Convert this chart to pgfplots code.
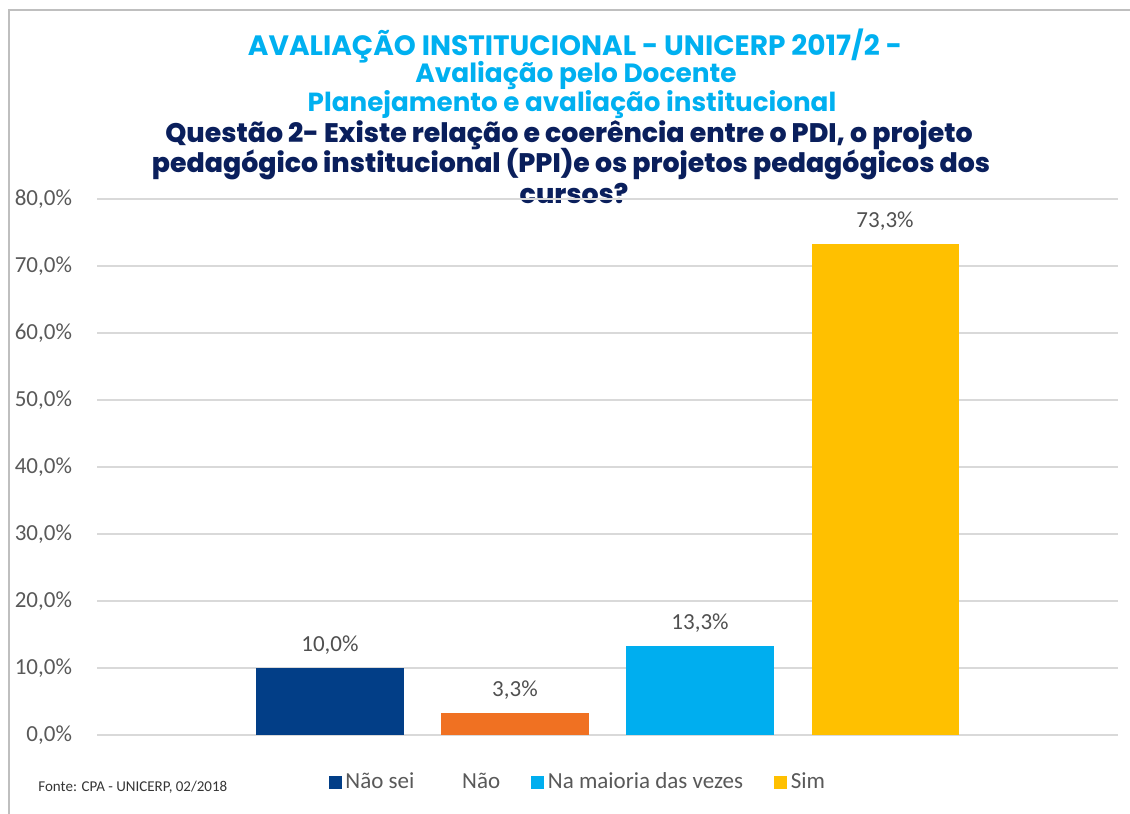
\documentclass[border=0pt]{standalone}
\usepackage{fontspec}
\setmainfont{Carlito}
\newfontfamily\titlefont[UprightFont={* Bold}]{Poppins}
\newfontfamily\heavyfont[UprightFont={* ExtraBold}]{Poppins}
\usepackage{pgfplots}
\pgfplotsset{compat=1.18}
\definecolor{titlecyan}{HTML}{00B0F0}
\definecolor{navy}{HTML}{0A1F5C}
\definecolor{txtgray}{HTML}{595959}
\definecolor{gridgray}{HTML}{D9D9D9}
\definecolor{framegray}{HTML}{BFBFBF}
\definecolor{cNaoSei}{HTML}{023E87}
\definecolor{cNao}{HTML}{F07122}
\definecolor{cMaioria}{HTML}{00AEEF}
\definecolor{cSim}{HTML}{FFC000}
\begin{document}
\begin{tikzpicture}[x=0.5pt,y=0.5pt]
\path[use as bounding box] (0,0) rectangle (1130,814);
% frame of the chart area
\draw[framegray,line width=1pt] (9,0) -- (9,804) -- (1130,804);
% titles
\node[titlecyan,font=\titlefont\fontsize{14}{16}\selectfont] at (575,768) {AVALIAÇÃO INSTITUCIONAL - UNICERP 2017/2 -};
\node[titlecyan,font=\titlefont\fontsize{13.2}{15}\selectfont] at (576,738) {Avaliação pelo Docente};
\node[titlecyan,font=\titlefont\fontsize{13.1}{15}\selectfont] at (572,709) {Planejamento e avaliação institucional};
\node[navy,font=\heavyfont\fontsize{13.4}{15}\selectfont] at (569,679) {Questão 2- Existe relação e coerência entre o PDI, o projeto};
\node[navy,font=\heavyfont\fontsize{13.4}{15}\selectfont] at (571,650) {pedagógico institucional (PPI)e os projetos pedagógicos dos};
\node[navy,font=\heavyfont\fontsize{13.4}{15}\selectfont] at (574,621) {cursos?};
% source
\node[txtgray!60!black,font=\fontsize{7.5}{9}\selectfont,anchor=west,inner sep=0pt] at (38,27) {Fonte: CPA - UNICERP, 02/2018};
\begin{axis}[
    at={(48.5pt,39.5pt)}, anchor=south west,
    scale only axis,
    width=510.5pt, height=268pt,
    xmin=-0.259, xmax=5.259,
    ymin=0, ymax=80,
    ytick={0,10,...,80},
    xtick=\empty,
    ymajorgrids=true,
    grid style={gridgray,line width=0.8pt},
    axis line style={draw=none},
    major tick style={draw=none},
    /pgf/number format/assume math mode=true,
    yticklabel={\pgfmathprintnumber[fixed,fixed zerofill,precision=1,use comma]{\tick}\%},
    yticklabel style={font=\fontsize{11.5}{13}\selectfont,text=txtgray,xshift=-9pt},
    nodes near coords={\pgfmathprintnumber[fixed,fixed zerofill,precision=1,use comma,assume math mode=true]{\pgfplotspointmeta}\%},
    nodes near coords style={font=\fontsize{11.5}{13}\selectfont,text=txtgray!90!black,yshift=3pt},
    ybar, bar width=0.795, bar shift=0pt,
    legend columns=4,
    legend style={at={(0.471,-0.088)}, anchor=center, draw=none, fill=none,
        font=\fontsize{11.5}{13}\selectfont, text=txtgray,
        nodes={inner sep=1pt},
        /tikz/every odd column/.append style={column sep=1pt},
        /tikz/every even column/.append style={column sep=14.5pt}},
    legend cell align=left,
]
\addplot[fill=cNaoSei, draw=none, forget plot] coordinates {(1,10.0)};
\addplot[fill=cNao, draw=none, forget plot] coordinates {(2,3.3)};
\addplot[fill=cMaioria, draw=none, forget plot] coordinates {(3,13.3)};
\addplot[fill=cSim, draw=none, forget plot] coordinates {(4,73.3)};
\addlegendimage{legend image code/.code={\fill[cNaoSei] (0pt,-3pt) rectangle (6pt,3pt);}}
\addlegendentry{Não sei}
\addlegendimage{legend image code/.code={\fill[white] (0pt,-3pt) rectangle (6pt,3pt);}}
\addlegendentry{Não}
\addlegendimage{legend image code/.code={\fill[cMaioria] (0pt,-3pt) rectangle (6pt,3pt);}}
\addlegendentry{Na maioria das vezes}
\addlegendimage{legend image code/.code={\fill[cSim] (0pt,-3pt) rectangle (6pt,3pt);}}
\addlegendentry{Sim}
\end{axis}
\end{tikzpicture}
\end{document}
